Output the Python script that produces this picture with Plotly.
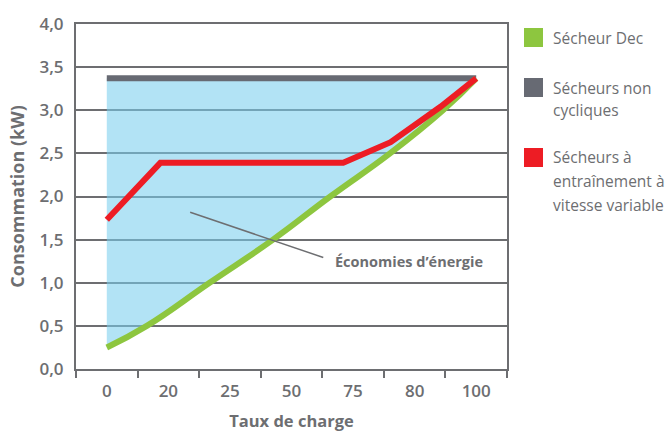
import plotly.graph_objects as go

# ---- data ----
categories = ["0", "20", "25", "50", "75", "80", "100"]
cat_pos = list(range(len(categories)))

gray_x = [0, 6]
gray_y = [3.37, 3.37]

red_x = [0, 0.87, 3.84, 4.61, 5.42, 6]
red_y = [1.73, 2.39, 2.39, 2.63, 3.04, 3.37]

green_x = [0, 0.65, 1.67, 2.7, 3.63, 4.6, 5.46, 6]
green_y = [0.25, 0.5, 1.0, 1.5, 2.0, 2.5, 3.0, 3.37]

legend_labels = [["Sécheur Dec"], ["Sécheurs non", "cycliques"],
                 ["Sécheurs à", "entraînement à", "vitesse variable"]]
annotation_text = "Économies d’énergie"

# ---- styles ----
TXT = "#6d6e71"
GRID = "#6d6e71"
C_GREEN = "#8dc63f"
C_GRAY = "#676a73"
C_RED = "#ed1c24"
FILL = "rgba(120,205,238,0.57)"
FONT = "Open Sans"

W, H = 670, 432
ML, MR, MT, MB = 76, 163, 24, 63
PW, PH = W - ML - MR, H - MT - MB


def px(xp):
    return (xp - ML) / PW


def py(yp):
    return (H - MB - yp) / PH


fig = go.Figure()

# savings area between non-cyclic and Dec curves
fig.add_trace(go.Scatter(
    x=green_x + gray_x[::-1], y=green_y + gray_y[::-1],
    fill="toself", fillcolor=FILL, mode="lines", line=dict(width=0),
    hoverinfo="skip", showlegend=False))

fig.add_trace(go.Scatter(x=gray_x, y=gray_y, mode="lines",
                         line=dict(color=C_GRAY, width=6), showlegend=False,
                         name="Sécheurs non cycliques"))
fig.add_trace(go.Scatter(x=green_x, y=green_y, mode="lines",
                         line=dict(color=C_GREEN, width=6, shape="spline", smoothing=1.3),
                         showlegend=False, name="Sécheur Dec"))
fig.add_trace(go.Scatter(x=red_x, y=red_y, mode="lines",
                         line=dict(color=C_RED, width=6), showlegend=False,
                         name="Sécheurs à entraînement à vitesse variable"))

shapes = []
annotations = []

# pointer line for annotation
shapes.append(dict(type="line", xref="x", yref="y",
                   x0=1.354, y0=1.817, x1=3.516, y1=1.293,
                   line=dict(color="#6d6e71", width=1.5)))
annotations.append(dict(xref="x", yref="y", x=3.68, y=1.245, text=annotation_text,
                        showarrow=False, xanchor="left", yanchor="middle",
                        font=dict(family=FONT, size=14.5, color=TXT, weight="bold")))

# manual legend
legend_colors = [C_GREEN, C_GRAY, C_RED]
square_tops = [28, 78, 148]
line_centers = [[38], [88, 110], [157, 181, 205]]
for col, top, labels, centers in zip(legend_colors, square_tops, legend_labels, line_centers):
    shapes.append(dict(type="rect", xref="paper", yref="paper",
                       x0=px(524), x1=px(543), y0=py(top + 19), y1=py(top),
                       fillcolor=col, line=dict(width=0)))
    for lab, c in zip(labels, centers):
        annotations.append(dict(xref="paper", yref="paper", x=px(551), y=py(c),
                                text=lab, showarrow=False, xanchor="left",
                                yanchor="middle",
                                font=dict(family=FONT, size=15.5, color=TXT)))

fig.update_layout(
    width=W, height=H,
    margin=dict(l=ML, r=MR, t=MT, b=MB, pad=0),
    paper_bgcolor="white", plot_bgcolor="white",
    separators=", ",
    font=dict(family=FONT, color=TXT),
    shapes=shapes, annotations=annotations,
    showlegend=False,
)

fig.update_xaxes(
    range=[-0.5, 6.5], tickvals=cat_pos, ticktext=categories,
    showgrid=False, zeroline=False,
    showline=True, linecolor=GRID, linewidth=2, mirror=True,
    ticks="", ticklabelstandoff=6,
    tickfont=dict(family=FONT, size=17, color=TXT, weight=600),
    minor=dict(tickvals=[i - 0.5 for i in range(len(categories) + 1)],
               ticks="outside", ticklen=7, tickwidth=2, tickcolor=GRID, showgrid=False),
    title=dict(text="Taux de charge", standoff=14,
               font=dict(family=FONT, size=16.5, color=TXT, weight="bold")),
    automargin=False,
)
fig.update_yaxes(
    range=[0, 4], tickvals=[i * 0.5 for i in range(9)], tickformat=".1f",
    showgrid=True, gridcolor=GRID, gridwidth=2, zeroline=False,
    showline=True, linecolor=GRID, linewidth=2, mirror=True,
    ticks="", ticklabelstandoff=7,
    tickfont=dict(family=FONT, size=17, color=TXT, weight=600),
    title=dict(text="Consommation (kW)", standoff=10,
               font=dict(family=FONT, size=18, color=TXT, weight="bold")),
    automargin=False,
)

fig.write_html("out.html")
